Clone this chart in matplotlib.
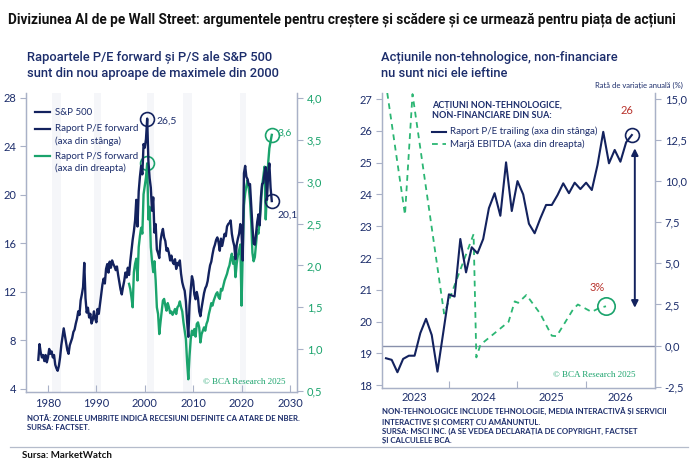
import numpy as np
import matplotlib
matplotlib.use('Agg')
import matplotlib.pyplot as plt
from matplotlib.lines import Line2D
from matplotlib import font_manager

# ---- data: left chart (quarterly) ----
pe_start = 1978.0
pe_fwd = [
    6.4, 7.7, 7.0, 6.6,   6.8, 6.3, 6.8, 6.2,   6.6, 7.3, 6.9, 7.1,   6.6, 6.8, 6.0, 5.7,
    5.5, 5.9, 6.6, 7.6,   8.3, 9.0, 8.4, 7.8,   7.2, 6.9, 7.6, 7.9,   8.2, 8.7, 8.9, 9.4,
    9.8, 10.4, 10.1, 11.3,  11.8, 12.4, 14.4, 11.5,  10.3, 10.7, 9.9, 10.2,  9.4, 9.7, 10.4, 9.8,
    9.5, 10.6, 10.2, 11.0,  11.8, 12.6, 13.1, 12.7,  13.9, 14.3, 13.6, 14.5,  14.0, 14.6, 14.3, 14.1,
    13.8, 14.1, 13.4, 12.8,  12.2, 11.8, 12.4, 12.9,  13.6, 13.2, 14.0, 13.4,  14.5, 15.4, 16.3, 17.0,
    17.9, 19.6, 17.4, 20.3,  21.5, 22.4, 21.7, 24.2,  23.9, 24.6, 26.3, 22.8,  21.4, 20.6, 18.7, 19.8,
    16.9, 17.6, 15.5, 15.2,  14.8, 16.2, 16.8, 17.2,  16.5, 16.2, 15.4, 15.6,  15.2, 14.6, 15.0, 14.5,
    14.3, 14.7, 13.9, 14.4,  14.2, 14.6, 13.5, 12.8,  12.4, 12.1, 11.2, 9.6,  8.3, 10.9, 12.2, 13.3,
    12.9, 11.8, 11.4, 12.0,  11.5, 10.4, 10.0, 10.7,  11.3, 11.9, 12.3, 12.5,  12.9, 13.6, 14.2, 14.5,
    15.1, 15.6, 15.9, 16.3,  16.5, 16.1, 15.4, 16.4,  15.8, 16.3, 16.8, 16.6,  17.4, 17.6, 17.7, 17.9,
    16.8, 16.2, 15.8, 14.7,  15.9, 16.4, 16.8, 17.6,  16.9, 14.6, 21.8, 22.4,  21.5, 21.3, 20.8, 20.9,
    19.2, 17.4, 16.0, 15.9,  16.8, 17.8, 18.4, 17.5,  19.8, 20.9, 21.0, 21.8,  22.3, 19.6, 21.7, 22.6,
    20.6, 19.5,
]
ps_start = 1996.75
ps_fwd = [
    1.78,
    1.72, 1.62, 1.50, 1.92,  2.02, 2.08, 1.82, 2.22,  2.35, 2.45, 2.38, 2.85,  2.95, 3.05, 3.22, 2.55,
    2.70, 2.22, 2.05, 1.92,  2.05, 1.82, 1.50, 1.42,  1.18, 1.32, 1.45, 1.58,  1.60, 1.52, 1.46, 1.55,
    1.50, 1.43, 1.45, 1.41,  1.44, 1.48, 1.42, 1.50,  1.52, 1.57, 1.50, 1.45,  1.32, 1.22, 1.12, 0.85,
    0.64, 0.92, 1.12, 1.22,  1.17, 1.24, 1.15, 1.30,  1.32, 1.26, 1.08, 1.18,  1.22, 1.26, 1.22, 1.30,
    1.34, 1.42, 1.48, 1.55,  1.52, 1.58, 1.62, 1.66,  1.68, 1.62, 1.60, 1.72,  1.70, 1.76, 1.82, 1.86,
    1.90, 1.96, 2.00, 2.08,  2.14, 2.02, 2.10, 1.86,  2.02, 2.12, 2.18, 2.25,  1.52, 2.18, 2.72, 2.86,
    2.95, 3.02, 2.92, 2.78,  2.52, 2.15, 2.05, 2.10,  2.26, 2.42, 2.38, 2.55,  2.72, 2.95, 3.06, 3.18,
    2.55, 2.90, 3.22, 3.40,  3.48, 3.56,
]
recessions = [(1980.9, 1982.6), (1989.6, 1990.9), (2000.5, 2001.9), (2007.9, 2009.8), (2019.7, 2021.0)]

# ---- data: right chart ----
pe_trail_start = 2023 + 1 / 12   # monthly, from Feb 2023
pe_trailing = [18.85, 18.80, 18.41, 18.83, 18.93, 18.93, 19.64, 20.09, 19.58, 18.43, 19.64, 20.86,
               20.79, 22.60, 21.55, 22.34, 22.15, 22.60, 23.57, 24.04, 23.33, 25.01, 23.48, 24.42,
               24.00, 23.08, 22.78, 23.25, 23.67, 23.67, 23.98, 24.35, 24.04, 24.37, 24.17, 24.37,
               24.14, 24.93, 25.97, 24.98, 25.40, 25.03, 25.64, 25.87]
ebitda_dates = [2023.08, 2023.36, 2023.47, 2023.93, 2024.36, 2024.40, 2024.46, 2024.87, 2024.96,
                2025.01, 2025.13, 2025.33, 2025.50, 2025.57, 2025.81, 2025.88, 2026.08, 2026.20, 2026.29]
ebitda_margin = [16.0, 7.96, 15.3, 1.95, 6.78, -0.72, 0.05, 1.45, 2.69,
                 2.60, 3.08, 1.95, 0.60, 0.57, 2.20, 2.50, 2.05, 2.30, 2.39]

NAVY = '#13225e'
TXT = '#1c2d6b'
GREEN = '#1aa36c'
GREEN2 = '#2bb673'
RED = '#b8322c'
SPINE = '#a9b1c7'

avail = {f.name for f in font_manager.fontManager.ttflist}
narrow = 'Liberation Sans Narrow' if 'Liberation Sans Narrow' in avail else 'Roboto'
plt.rcParams['font.family'] = ['Lato', 'DejaVu Sans']

fig = plt.figure(figsize=(7, 4.66), dpi=100)
fig.patch.set_facecolor('white')

# ================= left chart =================
ax = fig.add_axes([0.0371, 0.1588, 0.3871, 0.6416])
axr = ax.twinx()
t_pe = pe_start + 0.25 * np.arange(len(pe_fwd))
t_ps = ps_start + 0.25 * np.arange(len(ps_fwd))

for a, b in recessions:
    axr.axvspan(a, b, color='#f5f6f9', lw=0, zorder=0)

axr.plot(t_ps, ps_fwd, color=GREEN, lw=1.7, zorder=2)
ax.plot(t_pe, pe_fwd, color=NAVY, lw=1.7, zorder=3)
ax.set_zorder(axr.get_zorder() + 1)
ax.patch.set_visible(False)

ax.set_xlim(1975.45, 2031.45)
ax.set_ylim(3.75, 28.41)
axr.set_ylim(0.488, 4.06)
ax.set_xticks([1980, 1990, 2000, 2010, 2020, 2030])
ax.set_yticks([4, 8, 12, 16, 20, 24, 28])
axr.set_yticks([0.5, 1.0, 1.5, 2.0, 2.5, 3.0, 3.5, 4.0])
axr.set_yticklabels([f'{v:.1f}'.replace('.', ',') for v in axr.get_yticks()])

for a in (ax, axr):
    for s in a.spines.values():
        s.set_color(SPINE)
        s.set_linewidth(0.9)
    a.spines['top'].set_visible(False)
ax.tick_params(axis='x', direction='in', length=5, color=SPINE, labelcolor=TXT, labelsize=8, pad=4)
ax.tick_params(axis='y', direction='out', length=4, color=SPINE, labelcolor=TXT, labelsize=8, pad=3)
axr.tick_params(axis='y', direction='out', length=4, color=SPINE, labelcolor=GREEN, labelsize=8, pad=3)

# circles + labels
ipk = int(np.argmax(pe_fwd))
ax.plot(t_pe[ipk], pe_fwd[ipk], 'o', ms=10, mfc='none', mec=NAVY, mew=1.2, zorder=5)
ax.text(t_pe[ipk] + 2.0, 26.1, '26,5', color=TXT, fontsize=7.5, va='center')
ax.plot(t_pe[-1], pe_fwd[-1], 'o', ms=10, mfc='none', mec=NAVY, mew=1.2, zorder=5)
ax.text(2027.4, 18.35, '20,1', color=TXT, fontsize=7.5, va='center')
jpk = int(np.argmax(ps_fwd[:20]))
axr.plot(t_ps[jpk], ps_fwd[jpk], 'o', ms=10, mfc='none', mec=GREEN, mew=1.2, zorder=5)
axr.plot(t_ps[-1], ps_fwd[-1], 'o', ms=10, mfc='none', mec=GREEN, mew=1.2, zorder=5)
axr.text(2027.4, 3.58, '3,6', color=GREEN, fontsize=7.5, va='center')

# legend
tr = ax.transAxes
leg = [(0.936, ['S&P 500'], NAVY), (0.880, ['Raport P/E forward', '(axa din stânga)'], NAVY),
       (0.789, ['Raport P/S forward', '(axa din dreapta)'], GREEN)]
for y, lines, c in leg:
    ax.add_line(Line2D([0.033, 0.089], [y, y], transform=tr, color=c, lw=1.6))
    for k, s in enumerate(lines):
        ax.text(0.107, y - k * 0.041, s, transform=tr, color=TXT, fontsize=7, va='center')
ax.text(0.956, 0.033, '© BCA Research 2025', transform=tr, color=GREEN, fontsize=6.5,
        family=['Liberation Serif', 'DejaVu Serif'], ha='right', va='center')

# ================= right chart =================
bx = fig.add_axes([0.5457, 0.1674, 0.39, 0.633])
bxr = bx.twinx()
t_tr = pe_trail_start + np.arange(len(pe_trailing)) / 12

bxr.axhline(0, color='#8890ab', lw=1.0, zorder=1)
bxr.plot(ebitda_dates, ebitda_margin, color=GREEN2, lw=1.3, ls=(0, (3.2, 2.6)), zorder=2)
bx.plot(t_tr, pe_trailing, color=NAVY, lw=1.5, zorder=3)
bx.set_zorder(bxr.get_zorder() + 1)
bx.patch.set_visible(False)

bx.set_xlim(2023.025, 2027.004)
bx.set_ylim(17.915, 27.19)
bxr.set_ylim(-2.58, 15.365)
bx.set_yticks(range(18, 28))
bxr.set_yticks([-2.5, 0, 2.5, 5, 7.5, 10, 12.5, 15])
bxr.set_yticklabels([f'{v:.1f}'.replace('.', ',') for v in bxr.get_yticks()])
bx.set_xticks([2024, 2025, 2026])
bx.set_xticklabels([])
bx.set_xticks([2023.5, 2024.5, 2025.5, 2026.5], minor=True)
bx.set_xticklabels(['2023', '2024', '2025', '2026'], minor=True)
for a in (bx, bxr):
    for s in a.spines.values():
        s.set_color(SPINE)
        s.set_linewidth(0.9)
    a.spines['top'].set_visible(False)
bx.tick_params(axis='x', which='major', direction='in', length=5, color=SPINE)
bx.tick_params(axis='x', which='minor', length=0, labelcolor=TXT, labelsize=8, pad=3)
bx.tick_params(axis='y', direction='out', length=4, color=SPINE, labelcolor=TXT, labelsize=8, pad=3)
bxr.tick_params(axis='y', direction='out', length=4, color=SPINE, labelcolor=TXT, labelsize=8, pad=3)

bx.plot(t_tr[-1], pe_trailing[-1], 'o', ms=10, mfc='none', mec=NAVY, mew=1.2, zorder=5)
bx.text(t_tr[-1] - 0.07, 26.65, '26', color=RED, fontsize=8, ha='center', va='center')
bxr.plot(ebitda_dates[-1], ebitda_margin[-1], 'o', ms=12.5, mfc='none', mec=GREEN, mew=1.2, zorder=5)
bxr.text(ebitda_dates[-1] - 0.13, 3.55, '3%', color=RED, fontsize=8, ha='center', va='center')
bxr.annotate('', xy=(2026.71, 12.0), xytext=(2026.71, 2.3),
             arrowprops=dict(arrowstyle='<|-|>', color=NAVY, lw=1.4, mutation_scale=10,
                             shrinkA=0, shrinkB=0))

trb = bx.transAxes
bx.text(0.183, 0.959, 'ACȚIUNI NON-TEHNOLOGICE,', transform=trb, color=TXT, fontsize=6.5,
        fontweight='bold', va='center')
bx.text(0.183, 0.925, 'NON-FINANCIARE DIN SUA:', transform=trb, color=TXT, fontsize=6.5,
        fontweight='bold', va='center')
bx.add_line(Line2D([0.183, 0.234], [0.869, 0.869], transform=trb, color=NAVY, lw=1.5))
bx.text(0.249, 0.869, 'Raport P/E trailing (axa din stânga)', transform=trb, color=TXT,
        fontsize=7, va='center')
bx.add_line(Line2D([0.183, 0.234], [0.827, 0.827], transform=trb, color=GREEN2, lw=1.3,
                   ls=(0, (3.2, 2.6))))
bx.text(0.249, 0.827, 'Marjă EBITDA (axa din dreapta)', transform=trb, color=TXT,
        fontsize=7, va='center')
bx.text(0.927, 0.044, '© BCA Research 2025', transform=trb, color=GREEN, fontsize=6.5,
        family=['Liberation Serif', 'DejaVu Serif'], ha='right', va='center')

# ================= figure texts =================
W, H = 700, 466
def fx(px):
    return px / W
def fy(py):
    return 1 - py / H

fig.text(fx(8), fy(20), 'Diviziunea AI de pe Wall Street: argumentele pentru creștere și scădere și ce urmează pentru piața de acțiuni',
         family=[narrow, 'DejaVu Sans'], fontsize=9.8, fontweight='bold', color='#111111', va='center')
fig.text(fx(27), fy(65), 'Rapoartele P/E forward și P/S ale S&P 500\nsunt din nou aproape de maximele din 2000',
         family=[narrow, 'DejaVu Sans'], fontsize=9.3, fontweight='medium', color=TXT, va='center',
         linespacing=1.3)
fig.text(fx(381), fy(65), 'Acțiunile non-tehnologice, non-financiare\nnu sunt nici ele ieftine',
         family=[narrow, 'DejaVu Sans'], fontsize=9.3, fontweight='medium', color=TXT, va='center',
         linespacing=1.3)
fig.text(fx(683), fy(85), 'Rată de variație anuală (%)', fontsize=5.5, color=TXT, ha='right', va='center')

fig.text(fx(27), fy(423), 'NOTĂ: ZONELE UMBRITE INDICĂ RECESIUNI DEFINITE CA ATARE DE NBER.\nSURSA: FACTSET.',
         fontsize=5.6, fontweight='bold', color=TXT, va='center', linespacing=1.35)
fig.text(fx(382), fy(425.5), 'NON-TEHNOLOGICE INCLUDE TEHNOLOGIE, MEDIA INTERACTIVĂ ȘI SERVICII\n'
         'INTERACTIVE ȘI COMERȚ CU AMĂNUNTUL.\n'
         'SURSA: MSCI INC. (A SE VEDEA DECLARAȚIA DE COPYRIGHT, FACTSET\nȘI CALCULELE BCA.',
         fontsize=5.6, fontweight='bold', color=TXT, va='center', linespacing=1.35)
fig.add_artist(Line2D([fx(10), fx(688)], [fy(446.5), fy(446.5)], color='#b5bccb', lw=0.9))
fig.text(fx(22), fy(456), 'Sursa: MarketWatch', fontsize=7, fontweight='bold', color='#111111', va='center')

fig.savefig('out.png', dpi=100, facecolor='white')
